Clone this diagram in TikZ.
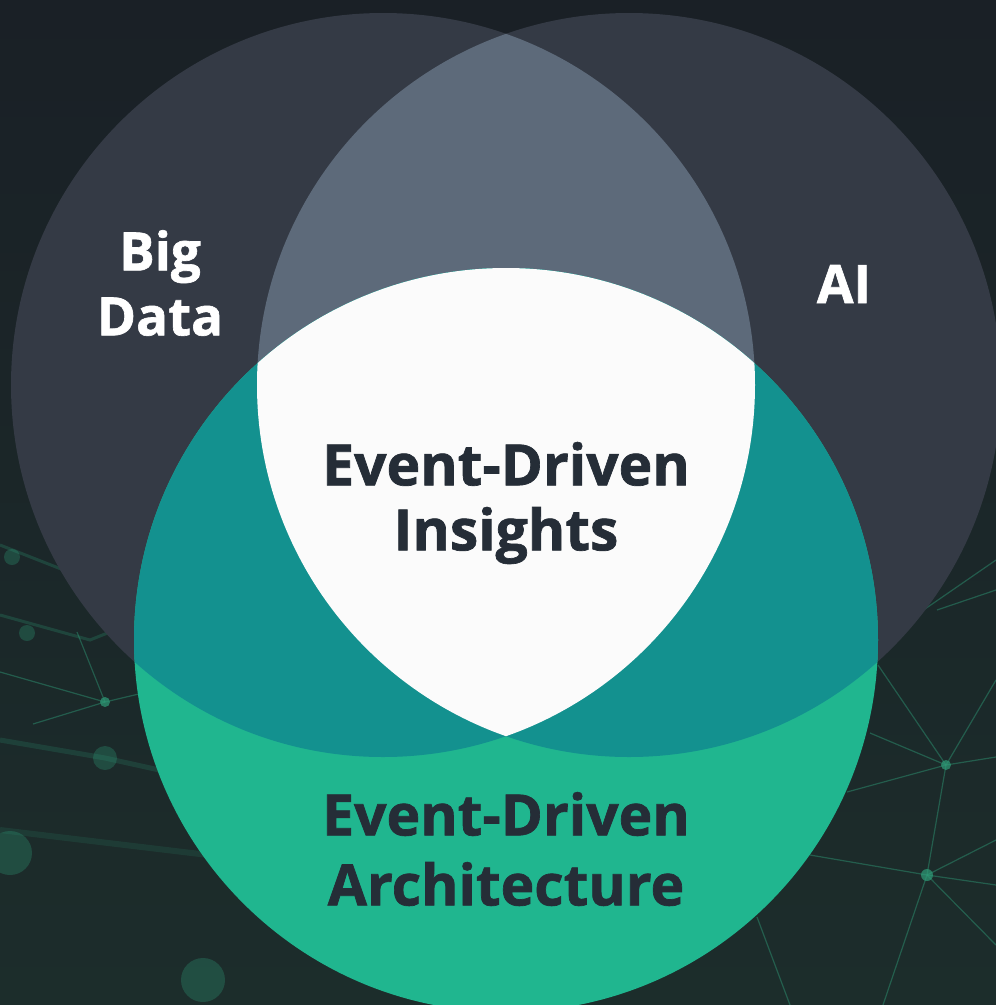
\documentclass[tikz,border=0pt]{standalone}
\usepackage{fontspec}
\setmainfont{Open Sans}[BoldFeatures={FakeBold=1.2}]
\usepackage{tikz}
\definecolor{bgTop}{HTML}{1a2026}
\definecolor{bgBot}{HTML}{1c2d2b}
\definecolor{vennGray}{HTML}{343a45}
\definecolor{vennLens}{HTML}{5d6a7a}
\definecolor{vennWhite}{HTML}{fbfbfb}
\definecolor{vennTeal}{HTML}{13918f}
\definecolor{vennGreen}{HTML}{20b68f}
\definecolor{netGreen}{HTML}{2e9c78}
\definecolor{txtDark}{HTML}{252d37}

\begin{document}
\begin{tikzpicture}[x=1pt,y=-1pt,lbl/.style={font=\fontsize{53}{65}\selectfont\bfseries, align=center, text=white},core/.style={font=\fontsize{57}{65}\selectfont\bfseries, align=center, text=txtDark},link/.style={draw=netGreen, opacity=0.45, line width=1.2pt},glow/.style={fill=netGreen, opacity=0.3}]
\useasboundingbox (0,0) rectangle (996,1005);
\clip (0,0) rectangle (996,1005);
\shade[top color=bgTop, bottom color=bgBot] (0,0) rectangle (996,1005);
% network in the background
\coordinate (hubL) at (105,702); \coordinate (hubR) at (946,765); \coordinate (hubS) at (927,875);
\foreach \p in {(0,672),(77,632),(143,693),(33,724)} \draw[link] (hubL) -- \p;
\draw[link, opacity=0.25, line width=3pt] (0,545) -- (140,600);
\draw[link, opacity=0.25, line width=3pt] (0,615) -- (90,640) -- (140,620);
\draw[link, opacity=0.2, line width=5pt] (0,740) -- (105,758) -- (250,790);
\draw[link, opacity=0.15, line width=6pt] (0,830) -- (250,860);
\foreach \p in {(878,665),(996,680),(996,757),(847,792),(870,733),(hubS)} \draw[link] (hubR) -- \p;
\foreach \p in {(810,855),(996,840),(996,885),(883,1005),(996,945)} \draw[link] (hubS) -- \p;
\draw[link] (757,917) -- (790,1005); \draw[link] (937,610) -- (996,590); \draw[link] (880,640) -- (996,560);
\fill[netGreen, opacity=0.7] (hubL) circle[radius=5pt] (hubR) circle[radius=5pt] (hubS) circle[radius=6pt];
\foreach \p/\r in {(12,557)/8,(27,633)/8,(105,758)/12,(10,853)/22,(203,980)/22} \fill[glow] \p circle[radius=\r pt];
% the three circles
\coordinate (bigC) at (383,385); \coordinate (aiC) at (629,385); \coordinate (edaC) at (506,640);
\def\vr{372pt}
\fill[vennGray] (bigC) circle[radius=\vr];
\fill[vennGray] (aiC) circle[radius=\vr];
\begin{scope}
\clip (bigC) circle[radius=\vr];
\fill[vennLens] (aiC) circle[radius=\vr];
\end{scope}
\fill[vennGreen] (edaC) circle[radius=\vr];
\begin{scope}
\clip (edaC) circle[radius=\vr];
\fill[vennTeal] (bigC) circle[radius=\vr];
\fill[vennTeal] (aiC) circle[radius=\vr];
\clip (bigC) circle[radius=\vr];
\fill[vennWhite] (aiC) circle[radius=\vr];
\end{scope}
% labels
\node[lbl] (bigdata) at (160,283) {Big\\Data};
\node[lbl] (ai) at (844,284) {AI};
\node[core] (insights) at (506,503) {Event-Driven\\Insights};
\node[core, font=\fontsize{57}{70}\selectfont\bfseries] (eda) at (506,849) {Event-Driven\\Architecture};
\end{tikzpicture}
\end{document}
